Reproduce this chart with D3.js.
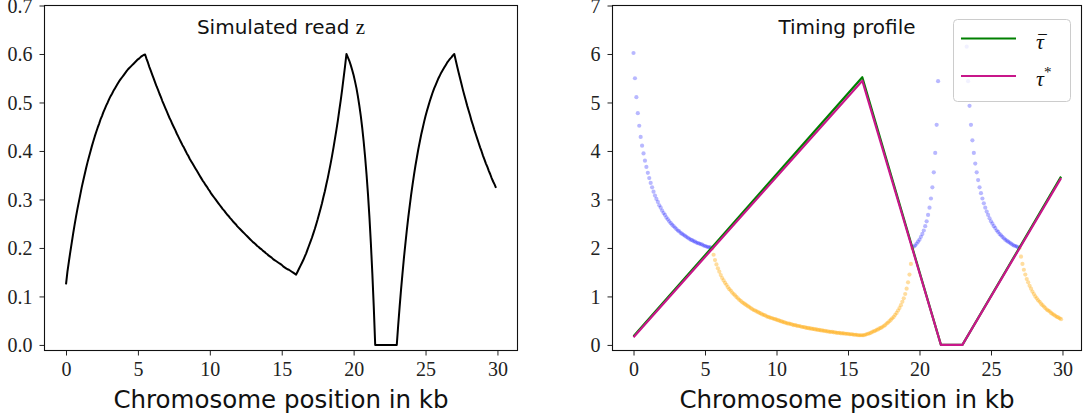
<!DOCTYPE html>
<html><head><meta charset="utf-8">
<script src="https://cdn.jsdelivr.net/npm/d3@7"></script>
<style>body{margin:0;background:#fff}svg{display:block}</style>
</head><body>
<svg id="c" width="1083" height="417"></svg>
<script>
// ---------- data ----------
const step = 0.1; // kb between samples, positions start at 0.0
const readZ = [
0.125,0.151,0.172,0.192,0.211,0.230,0.248,0.265,0.281,0.296,
0.311,0.326,0.339,0.352,0.365,0.377,0.388,0.399,0.410,0.420,
0.430,0.439,0.448,0.456,0.465,0.472,0.480,0.487,0.494,0.500,
0.507,0.513,0.518,0.524,0.529,0.534,0.539,0.544,0.548,0.552,
0.556,0.560,0.564,0.568,0.571,0.574,0.577,0.580,0.583,0.586,
0.589,0.591,0.594,0.596,0.598,
0.599,0.590,0.582,0.573,0.565,0.557,0.549,0.541,0.533,0.526,
0.518,0.511,0.503,0.496,0.489,0.482,0.475,0.468,0.462,0.455,
0.449,0.443,0.436,0.430,0.424,0.418,0.412,0.407,0.401,0.395,
0.390,0.384,0.379,0.374,0.369,0.364,0.359,0.354,0.349,0.344,
0.339,0.335,0.330,0.326,0.321,0.317,0.312,0.308,0.304,0.300,
0.296,0.292,0.288,0.284,0.280,0.277,0.273,0.269,0.266,0.262,
0.259,0.255,0.252,0.249,0.245,0.242,0.239,0.236,0.233,0.230,
0.227,0.224,0.221,0.218,0.215,0.212,0.210,0.207,0.204,0.202,
0.199,0.197,0.194,0.192,0.189,0.187,0.184,0.182,0.180,0.177,
0.175,0.173,0.171,0.169,0.167,0.165,0.162,0.160,0.158,0.156,
0.155,0.153,0.151,0.149,0.147,0.145,
0.151,0.157,0.163,0.169,0.175,0.182,0.189,0.197,0.205,0.213,
0.221,0.230,0.239,0.249,0.259,0.270,0.281,0.292,0.305,0.317,
0.331,0.344,0.359,0.374,0.390,0.407,0.425,0.443,0.462,0.483,
0.504,0.526,0.550,0.574,0.600,
0.593,0.586,0.577,0.567,0.556,0.543,0.529,0.512,0.493,0.472,
0.447,0.419,0.387,0.351,0.310,0.263,0.209,0.148,0.079,0.000,
0,0,0,0,0,0,0,0,0,0,0,0,0,0,
0.000,0.041,0.079,0.115,0.148,0.180,0.209,0.237,0.263,0.287,
0.310,0.331,0.351,0.370,0.387,0.404,0.419,0.434,0.447,0.460,
0.472,0.483,0.493,0.503,0.512,0.521,0.529,0.536,0.543,0.550,
0.556,0.562,0.567,0.572,0.577,0.582,0.586,0.590,0.593,0.597,
0.600,0.587,0.574,0.562,0.550,0.538,0.526,0.515,0.504,0.493,
0.483,0.473,0.462,0.453,0.443,0.434,0.425,0.416,0.407,0.399,
0.390,0.382,0.374,0.367,0.359,0.352,0.344,0.337,0.331,0.324];

// timing profiles (breakpoints in kb)
const tauPosKb = [0, 16, 21.5, 23, 29.9];
const tauBar  = [0.18, 5.52, 0, 0, 3.47];
const tauStar = [0.16, 5.45, 0, 0, 3.44];

// high-branch estimates (blue) : runs starting at given kb
const blueStarts = [0.0, 19.6, 23.3];
const blueRun1 = [6.02,5.50,5.11,4.78,4.52,4.29,4.11,3.95,3.80,3.67,3.55,3.44,3.34,3.25,3.16,3.08,3.01,2.95,2.88,2.83,2.77,2.72,2.68,2.63,2.59,2.55,2.51,2.48,2.45,2.42,2.39,2.36,2.34,2.31,2.29,2.27,2.25,2.23,2.21,2.19,2.17,2.16,2.14,2.13,2.11,2.10,2.09,2.08,2.07,2.05,2.04,2.03,2.02,2.01,2.01];
const blueRun2 = [2.03,2.05,2.09,2.13,2.17,2.23,2.29,2.36,2.45,2.55,2.68,2.83,3.02,3.25,3.56,3.96,4.54,5.44];
const blueRun3 = [6.15,5.44,4.93,4.54,4.22,3.96,3.74,3.56,3.40,3.25,3.13,3.02,2.92,2.83,2.75,2.68,2.61,2.55,2.50,2.45,2.41,2.36,2.33,2.29,2.26,2.23,2.20,2.17,2.15,2.13,2.11,2.09,2.07,2.05,2.04,2.03,2.01];

// low-branch estimates (orange)
const orangeStarts = [5.5, 16.1, 27.0];
const orangeRun1 = [1.99,1.86,1.75,1.66,1.58,1.51,1.44,1.38,1.33,1.28,
1.24,1.19,1.15,1.12,1.08,1.05,1.02,0.99,0.96,0.93,
0.91,0.88,0.86,0.84,0.82,0.80,0.78,0.76,0.74,0.72,
0.71,0.69,0.68,0.66,0.65,0.63,0.62,0.61,0.59,0.58,
0.57,0.56,0.55,0.54,0.53,0.52,0.51,0.50,0.49,0.48,
0.47,0.46,0.45,0.44,0.44,0.43,0.42,0.41,0.41,0.40,
0.39,0.39,0.38,0.37,0.37,0.36,0.35,0.35,0.34,0.34,
0.33,0.33,0.32,0.32,0.31,0.31,0.30,0.30,0.29,0.29,
0.28,0.28,0.27,0.27,0.27,0.26,0.26,0.25,0.25,0.25,
0.24,0.24,0.24,0.23,0.23,0.23,0.22,0.22,0.22,0.21,
0.21,0.21,0.20,0.20,0.20,0.20];
const orangeRun2 = [0.20,0.21,0.22,0.23,0.24,0.25,0.27,0.28,0.29,0.31,
0.32,0.34,0.35,0.37,0.39,0.41,0.44,0.46,0.49,0.52,
0.55,0.58,0.62,0.66,0.71,0.76,0.82,0.89,0.96,1.05,
1.16,1.29,1.45,1.67,2.00];
const orangeRun3 = [2.00,1.82,1.67,1.55,1.45,1.36,1.29,1.22,1.16,1.10,
1.05,1.00,0.96,0.92,0.89,0.85,0.82,0.79,0.76,0.73,
0.71,0.69,0.66,0.64,0.62,0.60,0.58,0.57,0.55,0.53];

const xTicks = [0, 5, 10, 15, 20, 25, 30];
const zTicks = [0, 0.1, 0.2, 0.3, 0.4, 0.5, 0.6, 0.7];
const tauTicks = [0, 1, 2, 3, 4, 5, 6, 7];

// ---------- drawing ----------
const svg = d3.select('#c');
const SERIF = "'Liberation Serif','DejaVu Serif',serif";
const SANS = "'DejaVu Sans',sans-serif";

function runs(starts, arrays) {
  const pts = [];
  arrays.forEach((arr, k) => arr.forEach((v, i) => pts.push({x: +(starts[k] + i * step).toFixed(2), y: v})));
  return pts;
}

function frame(x, y, yTickVals, yFmt, title, titleMath) {
  const g = svg.append('g');
  const [x0, x1] = x.range();
  const [y0, y1] = y.range();
  const bx = g.append('g').attr('transform', `translate(0,${y0})`)
    .call(d3.axisBottom(x).tickValues(xTicks).tickSize(5).tickPadding(6).tickSizeOuter(0));
  bx.select('.domain').remove();
  bx.selectAll('text').attr('font-family', SERIF).attr('font-size', 20).attr('fill', '#222');
  bx.selectAll('line').attr('stroke', '#222');
  const ly = g.append('g').attr('transform', `translate(${x0},0)`)
    .call(d3.axisLeft(y).tickValues(yTickVals).tickFormat(yFmt).tickSize(5).tickPadding(7).tickSizeOuter(0));
  ly.select('.domain').remove();
  ly.selectAll('text').attr('font-family', SERIF).attr('font-size', 20).attr('fill', '#222').attr('dy', '0.34em');
  ly.selectAll('line').attr('stroke', '#222');
  g.append('rect').attr('x', x0).attr('y', y1).attr('width', x1 - x0).attr('height', y0 - y1)
    .attr('fill', 'none').attr('stroke', '#111').attr('stroke-width', 1.1);
  const cx = (x0 + x1) / 2;
  const t = g.append('text').attr('x', cx).attr('y', 34).attr('text-anchor', 'middle')
    .attr('font-family', SANS).attr('font-size', 20).attr('fill', '#111');
  t.append('tspan').text(title);
  if (titleMath) t.append('tspan').attr('font-family', SERIF).attr('font-size', 21).text(titleMath);
  g.append('text').attr('x', cx).attr('y', 408).attr('text-anchor', 'middle')
    .attr('font-family', SANS).attr('font-size', 24.5).attr('fill', '#111')
    .text('Chromosome position in kb');
  return g;
}

// left panel
const xL = d3.scaleLinear().domain([-1.495, 31.395]).range([44.5, 517.5]);
const yL = d3.scaleLinear().domain([-0.0115, 0.7]).range([350.5, 5.5]);
const left = svg.append('g');
left.append('path')
  .datum(readZ.map((v, i) => ({x: +(i * step).toFixed(2), y: v})))
  .attr('d', d3.line().x(d => xL(d.x)).y(d => yL(d.y)))
  .attr('fill', 'none').attr('stroke', '#000').attr('stroke-width', 2).attr('stroke-linejoin', 'round');
frame(xL, yL, zTicks, d3.format('.1f'), 'Simulated read ', 'z');

// right panel
const xR = d3.scaleLinear().domain([-1.47, 31.33]).range([612.5, 1081.5]);
const yR = d3.scaleLinear().domain([-0.115, 7]).range([350.5, 5.5]);
svg.append('defs').append('clipPath').attr('id', 'clipR').append('rect')
  .attr('x', 612.5).attr('y', 5.5).attr('width', 469).attr('height', 345);
const right = svg.append('g').attr('clip-path', 'url(#clipR)');
right.append('g').selectAll('circle')
  .data(runs(orangeStarts, [orangeRun1, orangeRun2, orangeRun3])).join('circle')
  .attr('cx', d => xR(d.x)).attr('cy', d => yR(d.y)).attr('r', 2.1)
  .attr('fill', '#ffa500').attr('fill-opacity', 0.38);
right.append('g').selectAll('circle')
  .data(runs(blueStarts, [blueRun1, blueRun2, blueRun3])).join('circle')
  .attr('cx', d => xR(d.x)).attr('cy', d => yR(d.y)).attr('r', 2.1)
  .attr('fill', '#0000ff').attr('fill-opacity', 0.28);
const tline = d3.line().x(d => xR(d[0])).y(d => yR(d[1]));
right.append('path').datum(tauPosKb.map((p, i) => [p, tauBar[i]])).attr('d', tline)
  .attr('fill', 'none').attr('stroke', '#008000').attr('stroke-width', 2.2).attr('stroke-linejoin', 'round');
right.append('path').datum(tauPosKb.map((p, i) => [p, tauStar[i]])).attr('d', tline)
  .attr('fill', 'none').attr('stroke', '#c8178a').attr('stroke-width', 2.2).attr('stroke-linejoin', 'round');
frame(xR, yR, tauTicks, d3.format('d'), 'Timing profile', null);

// legend
const lg = svg.append('g');
lg.append('rect').attr('x', 953.5).attr('y', 19.5).attr('width', 117).attr('height', 82).attr('rx', 4)
  .attr('fill', '#fff').attr('fill-opacity', 0.8).attr('stroke', '#cccccc').attr('stroke-width', 1);
const items = [{c: '#008000', y: 38.5, lab: 'bar'}, {c: '#c8178a', y: 76, lab: 'star'}];
items.forEach(it => {
  lg.append('line').attr('x1', 961).attr('x2', 1016).attr('y1', it.y).attr('y2', it.y)
    .attr('stroke', it.c).attr('stroke-width', 2.2);
  const t = lg.append('text').attr('x', 1036).attr('y', it.y + 10)
    .attr('font-family', SERIF).attr('font-size', 22).attr('font-style', 'italic').attr('fill', '#111');
  if (it.lab === 'bar') {
    t.append('tspan').text('\u03C4');
    t.append('tspan').attr('x', 1042.5).attr('dy', -2).attr('text-anchor', 'middle')
      .attr('font-size', 17).attr('font-style', 'normal').text('\u00AF');
  } else {
    t.append('tspan').text('\u03C4');
    t.append('tspan').attr('dy', -9).attr('font-size', 15).attr('font-style', 'normal').text('*');
  }
});
</script>
</body></html>
